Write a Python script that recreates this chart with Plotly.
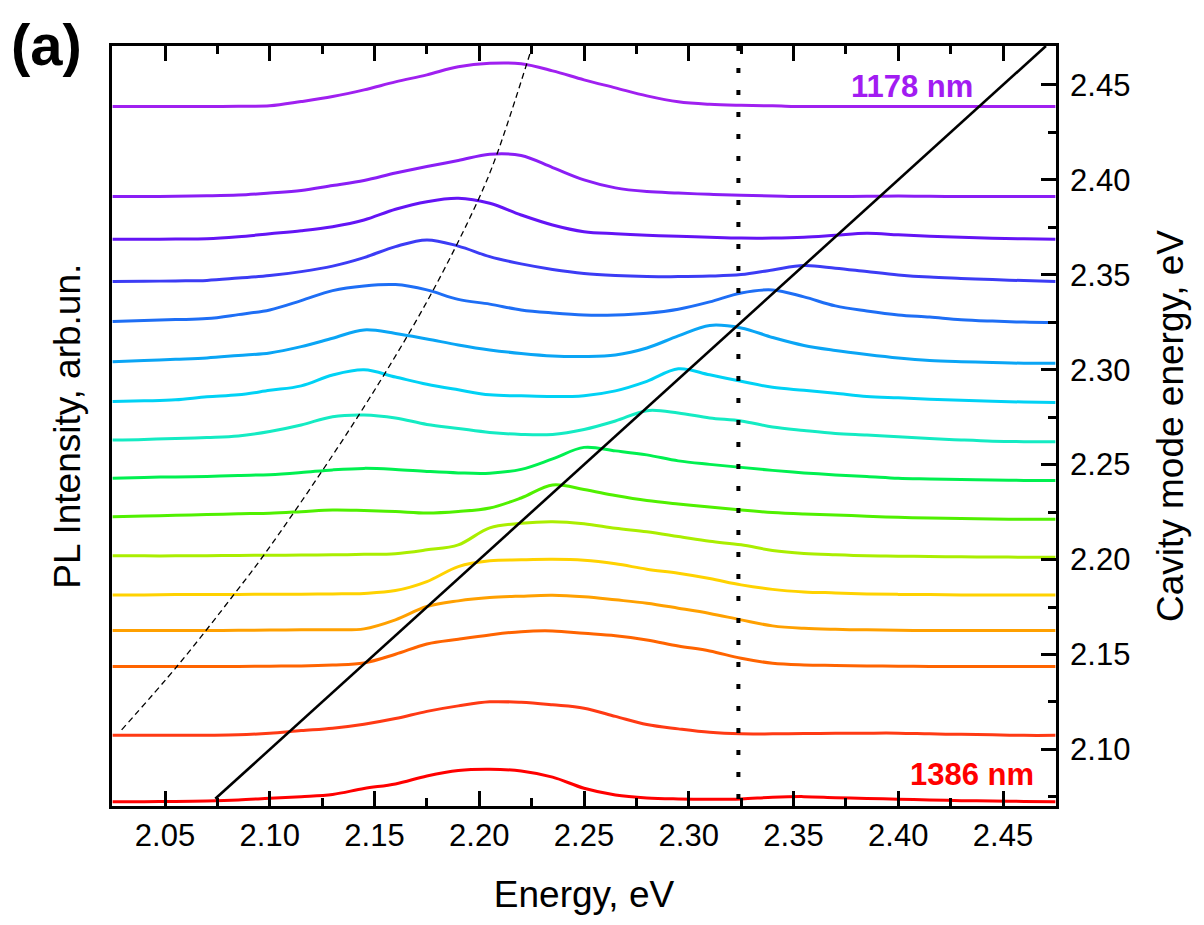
import plotly.graph_objects as go

# ---------------- data ----------------
energy = [2.025, 2.040, 2.055, 2.070, 2.085, 2.100, 2.115, 2.130, 2.145, 2.160, 2.175,
          2.190, 2.205, 2.220, 2.235, 2.250, 2.265, 2.280, 2.295, 2.310, 2.325, 2.340,
          2.355, 2.370, 2.385, 2.400, 2.415, 2.430, 2.445, 2.460, 2.475]

# cavity mode energies (baselines, eV), top (1178 nm) -> bottom (1386 nm)
cavity_mode = [2.4386, 2.3912, 2.3687, 2.3464, 2.3248, 2.3034, 2.2827, 2.2621,
               2.2416, 2.2212, 2.2009, 2.1814, 2.1626, 2.1437, 2.1074, 2.0725]

pl_1 = [0, 0, 0, 0, 0.4, 0.7, 5, 10, 16.7, 24.7, 31.7, 39.7, 43.2, 42.7, 35.7, 26.7, 18.7, 10.7, 4.7, 2.2, 1.2, 0.7, 0, 0, 0, 0, 0, 0, 0, 0, 0]
pl_2 = [0, 0, 0.3, 0.7, 1.5, 3.5, 6, 11, 16, 23.5, 30, 36, 42.3, 41, 29, 16.7, 8.7, 5, 3.5, 2.2, 1.2, 0.6, 0, 0, 0.3, 0.5, 0.3, 0, 0, 0, 0]
pl_3 = [0, 0, 0.2, 0.5, 2.5, 5.5, 8.5, 12.6, 19.3, 30, 37.6, 41, 36, 24.3, 14.3, 7.6, 5.5, 4, 3, 2, 1.2, 1.2, 2, 4, 6, 4.5, 3, 2, 1, 0.5, 0]
pl_4 = [0, 0.3, 0.7, 1.2, 3.5, 6, 10, 15.5, 24, 35, 41.7, 35.5, 25, 17.7, 12.2, 8.2, 6.2, 5.2, 5, 5.5, 7, 11.7, 16, 13.4, 10, 6.7, 4.5, 3.2, 2, 1, 0]
pl_5 = [1, 2, 3, 4, 8, 12.7, 22, 32, 36.7, 38, 32.7, 23.2, 18.5, 12.7, 9.7, 7.7, 7.7, 9.4, 13.4, 20.7, 29.7, 32.7, 25.7, 16.7, 11.7, 7.7, 5.5, 2.9, 1.5, 0.5, 0]
pl_6 = [1.6, 2.8, 4, 5.3, 7.8, 10.3, 16.6, 25, 33.3, 29.8, 24.3, 18.3, 13.3, 9.8, 7.3, 6.8, 8.3, 15.3, 27.3, 37.8, 35.3, 25.8, 17.8, 12.8, 8.8, 5.3, 2.8, 1.6, 0.8, 0, 0]
pl_7 = [1, 1.7, 2.7, 5.7, 7.7, 12.2, 16.7, 27.5, 32.7, 25.5, 18.2, 12.7, 7.7, 6.7, 6, 6.9, 11.7, 21.2, 33.7, 27.7, 21.2, 15.2, 12.2, 9.2, 6, 4.7, 3.4, 2.4, 1.2, 0.5, 0]
pl_8 = [1.7, 2.2, 3.2, 4.2, 5.7, 10.2, 16.7, 25, 26.7, 23.7, 17.2, 13.2, 9.2, 7.2, 7.2, 12.2, 20.7, 31, 28.7, 23.7, 20.7, 14.7, 11.2, 8.2, 6.7, 5, 3.2, 1.7, 0.5, 0, 0]
pl_9 = [2.4, 3.2, 3.7, 4.2, 5.2, 5.9, 8, 10.7, 12.2, 11.2, 9.2, 7.7, 7.4, 11.2, 21.7, 33.2, 29.7, 25.7, 19.7, 16.2, 13.2, 10.2, 7.7, 5.7, 4.2, 2.4, 1.7, 1, 0.5, 0.2, 0]
pl_10 = [2.6, 3.3, 4, 4.8, 5.5, 6.1, 7.6, 9.3, 8.8, 7.8, 6.3, 7.8, 11.3, 21.3, 34.3, 29.8, 23.8, 18.8, 15.3, 12.3, 9.3, 6.8, 5.3, 4.3, 3.1, 2, 1.3, 0.8, 0.3, 0, 0]
pl_11 = [2, 2, 2, 2.2, 2.4, 2.6, 2.8, 3, 3.5, 4.2, 8, 13, 30, 34.5, 36, 34, 29.5, 26, 21.3, 16.5, 13, 7.4, 4.4, 3, 2, 1.7, 1.3, 1, 0.8, 0.7, 0.7]
pl_12 = [0, 0, 0.3, 0.5, 0.5, 0.7, 0.7, 1, 1.5, 4.3, 13.3, 28.3, 34, 35, 35.5, 34.5, 31, 25.7, 21.7, 16.4, 10, 5.5, 3, 2, 1, 0.5, 0.3, 0, 0, 0, 0]
pl_13 = [0, 0, 0, 0, 0.3, 0.5, 0.7, 0.8, 1.7, 10.7, 24, 29.7, 33, 34.4, 35.2, 33.7, 30.7, 27.4, 22.4, 17.1, 10.7, 4.7, 2.2, 1.2, 0.7, 0.3, 0, 0, 0, 0, 0]
pl_14 = [0, 0, 0, 0, 0, 0.3, 0.5, 1.5, 3.5, 12.2, 22.5, 27.2, 31.5, 34.8, 35.5, 33.2, 30.8, 26.5, 20.5, 15.5, 8.2, 3.2, 1.5, 1, 0.5, 0.3, 0, 0, 0, 0, 0]
pl_15 = [0, 0, 0.2, 0.2, 0.5, 2.2, 4.8, 7.2, 11.2, 16.8, 24, 29.5, 33.5, 33, 30.5, 27.2, 19, 10.8, 6.5, 3, 1.5, 1.5, 1.8, 2, 2.2, 2.2, 1.5, 1, 0.5, 0, 0]
pl_16 = [0, 0, 0.2, 0.7, 1.7, 3.4, 5, 7.2, 13.2, 17.7, 25.7, 31.2, 32.4, 30.7, 24.5, 13.4, 6.7, 3.7, 2.7, 2.4, 2.7, 4.4, 5, 4, 3.2, 2.4, 1.7, 1, 0.7, 0.2, 0]

pl_spectra = [pl_1, pl_2, pl_3, pl_4, pl_5, pl_6, pl_7, pl_8,
              pl_9, pl_10, pl_11, pl_12, pl_13, pl_14, pl_15, pl_16]

# intensity (arb. un.) -> offset on the cavity-energy scale
PL_SCALE = 0.000527

# uncoupled cavity mode (E_c = E)
cavity_line_E = [2.074, 2.4705]
# exciton-like dispersion (dashed)
dashed_E = [2.0293, 2.0563, 2.0834, 2.1001, 2.1431, 2.1755, 2.1995, 2.2083, 2.2250]
dashed_Ec = [2.1103, 2.1445, 2.1823, 2.2068, 2.2771, 2.3368, 2.3894, 2.4131, 2.4693]
# vertical dotted line energy
dotted_E = 2.3237

wavelength_labels = ["1178 nm", "1386 nm"]

x_range = [2.0247, 2.4753]
y_range = [2.0702, 2.4705]

colors = ["#A020F0", "#8A1EF5", "#6414F5", "#3C3CF5", "#1E6EF5", "#0AA5F5", "#00D2F5", "#14EBC3",
          "#00F050", "#50F000", "#AAEE00", "#FFD200", "#FFA000", "#FF6400", "#FF3A14", "#FF0000"]

FONT = "Liberation Sans, Arial, Helvetica, sans-serif"

fig = go.Figure()

for base, pl, col in zip(cavity_mode, pl_spectra, colors):
    fig.add_trace(go.Scatter(
        x=energy, y=[base + v * PL_SCALE for v in pl], mode="lines",
        line=dict(color=col, width=3, shape="spline", smoothing=1.0),
        showlegend=False, hoverinfo="skip"))

fig.add_trace(go.Scatter(
    x=dashed_E, y=dashed_Ec, mode="lines",
    line=dict(color="black", width=1.3, dash="6px,4px", shape="spline"),
    showlegend=False, hoverinfo="skip"))

fig.add_trace(go.Scatter(
    x=cavity_line_E, y=cavity_line_E, mode="lines",
    line=dict(color="black", width=2.6),
    showlegend=False, hoverinfo="skip"))

fig.add_trace(go.Scatter(
    x=[dotted_E, dotted_E], y=[y_range[1], y_range[0]], mode="lines",
    line=dict(color="black", width=4, dash="5px,17px"),
    showlegend=False, hoverinfo="skip"))

fig.add_annotation(x=2.4066, y=2.4492, xref="x", yref="y", text="<b>%s</b>" % wavelength_labels[0],
                   showarrow=False, font=dict(family=FONT, size=31, color="#A21CF2"),
                   xanchor="center", yanchor="middle")
fig.add_annotation(x=2.4354, y=2.0868, xref="x", yref="y", text="<b>%s</b>" % wavelength_labels[1],
                   showarrow=False, font=dict(family=FONT, size=31, color="#FF0000"),
                   xanchor="center", yanchor="middle")
fig.add_annotation(x=-0.048, y=0.5, xref="paper", yref="paper", text="PL Intensity, arb.un.",
                   textangle=-90, showarrow=False, font=dict(family=FONT, size=37, color="black"),
                   xanchor="center", yanchor="middle")
fig.add_annotation(x=-0.0689, y=1.048, xref="paper", yref="paper", text="<b>(a)</b>",
                   showarrow=False, font=dict(family=FONT, size=58, color="black"),
                   xanchor="center", yanchor="top")

# the page body adds an 8 px offset; size and margins compensate for it
fig.update_layout(
    width=1196, height=917,
    margin=dict(l=104, r=148, t=38, b=119),
    paper_bgcolor="white", plot_bgcolor="white",
    font=dict(family=FONT, color="black"),
    xaxis=dict(
        range=x_range, tick0=2.05, dtick=0.05, tickformat=".2f",
        ticks="inside", ticklen=15, tickwidth=2.5, tickcolor="black",
        showline=True, linewidth=2.8, linecolor="black", mirror="allticks",
        minor=dict(ticks="inside", ticklen=8, tickwidth=2.5, tickcolor="black", dtick=0.025, tick0=2.025),
        showgrid=False, zeroline=False,
        tickfont=dict(family=FONT, size=31),
        title=dict(text="Energy, eV", font=dict(family=FONT, size=37), standoff=30),
        automargin=False),
    yaxis=dict(
        range=y_range, side="right", tick0=2.10, dtick=0.05, tickformat=".2f",
        ticks="inside", ticklen=15, tickwidth=2.5, tickcolor="black",
        showline=True, linewidth=2.8, linecolor="black", mirror=True,
        minor=dict(ticks="inside", ticklen=8, tickwidth=2.5, tickcolor="black", dtick=0.025, tick0=2.075),
        showgrid=False, zeroline=False, ticklabelstandoff=5,
        tickfont=dict(family=FONT, size=31),
        title=dict(text="Cavity mode energy, eV", font=dict(family=FONT, size=37), standoff=28),
        automargin=False),
)

fig.write_html("out.html")
